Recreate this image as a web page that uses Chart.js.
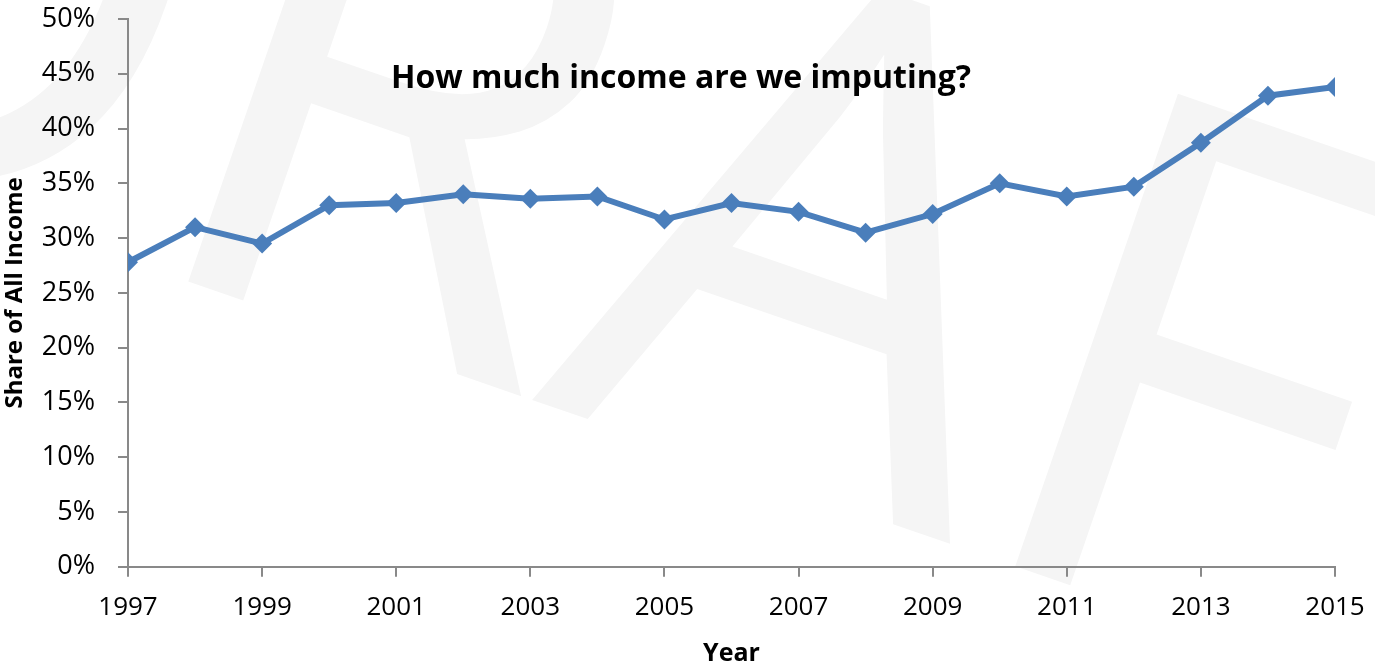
<!DOCTYPE html>
<html>
<head>
<meta charset="utf-8">
<script src="https://cdn.jsdelivr.net/npm/chart.js@4/dist/chart.umd.min.js"></script>
<style>
  html, body { margin: 0; padding: 0; background: #fff; }
  #wrap { width: 1375px; height: 669px; position: relative; }
</style>
</head>
<body>
<div id="wrap"><canvas id="chart"></canvas></div>
<script>
var years = [1997, 1998, 1999, 2000, 2001, 2002, 2003, 2004, 2005, 2006,
             2007, 2008, 2009, 2010, 2011, 2012, 2013, 2014, 2015];
// share of all income that is imputed, in percent
var imputedShare = [27.8, 31.0, 29.5, 33.0, 33.2, 34.0, 33.6, 33.8, 31.7, 33.2,
                    32.4, 30.5, 32.2, 35.0, 33.8, 34.7, 38.7, 43.0, 43.8];
var yTicks = [0, 5, 10, 15, 20, 25, 30, 35, 40, 45, 50];

var titleText = 'How much income are we imputing?';
var stampText = 'DRAFT';

var axisGrey = '#898989';
var lineBlue = '#4a7ebb';
var fontFamily = '"Open Sans", "Noto Sans", sans-serif';

var points = years.map(function (y, i) {
    return { x: y, y: imputedShare[i] };
});

// big pale "DRAFT" stamp behind everything, plus the title inside the plot
var decorations = {
    id: 'decorations',
    beforeDraw: function (chart) {
        var ctx = chart.ctx;
        ctx.save();
        ctx.fillStyle = '#f5f5f5';
        ctx.font = '700px ' + fontFamily;
        ctx.textAlign = 'center';
        ctx.textBaseline = 'middle';
        ctx.translate(715, 252);
        ctx.rotate(19 * Math.PI / 180);
        ctx.fillText(stampText, 0, 0);
        ctx.restore();
    },
    afterDraw: function (chart) {
        var ctx = chart.ctx;
        ctx.save();
        ctx.fillStyle = '#000';
        ctx.font = 'bold 32px ' + fontFamily;
        ctx.textAlign = 'center';
        ctx.textBaseline = 'middle';
        ctx.fillText(titleText, 681, 79);
        ctx.restore();
    }
};

var config = {
    type: 'line',
    data: {
        datasets: [{
            data: points,
            borderColor: lineBlue,
            backgroundColor: lineBlue,
            borderWidth: 6,
            pointStyle: 'rectRot',
            pointRadius: 10,
            pointBorderWidth: 0,
            tension: 0
        }]
    },
    options: {
        responsive: true,
        maintainAspectRatio: false,
        animation: false,
        layout: {
            padding: { top: 0, right: 40, left: 0, bottom: 0 }
        },
        plugins: {
            legend: { display: false },
            tooltip: { enabled: false }
        },
        scales: {
            x: {
                type: 'linear',
                min: years[0],
                max: years[years.length - 1],
                afterFit: function (axis) {
                    // end labels may hang into the page margins
                    axis.paddingLeft = 0;
                    axis.paddingRight = 0;
                },
                border: { color: axisGrey, width: 2 },
                grid: {
                    drawOnChartArea: false,
                    drawTicks: true,
                    tickLength: 10,
                    color: axisGrey,
                    lineWidth: 2
                },
                ticks: {
                    stepSize: 2,
                    padding: 15,
                    color: '#000',
                    font: { family: fontFamily, size: 26 },
                    callback: function (v) { return String(v); }
                },
                title: {
                    display: true,
                    text: 'Year',
                    color: '#000',
                    padding: { top: 1, bottom: 0 },
                    font: { family: fontFamily, size: 25, weight: 'bold' }
                }
            },
            y: {
                min: yTicks[0],
                max: yTicks[yTicks.length - 1],
                afterBuildTicks: function (axis) {
                    axis.ticks = yTicks.map(function (v) { return { value: v }; });
                },
                afterFit: function (axis) {
                    axis.width = 128;
                    axis.paddingTop = 19;
                    axis.paddingBottom = 0;
                },
                border: { color: axisGrey, width: 2 },
                grid: {
                    drawOnChartArea: false,
                    drawTicks: true,
                    tickLength: 10,
                    color: axisGrey,
                    lineWidth: 2
                },
                ticks: {
                    padding: 23,
                    color: '#000',
                    font: { family: fontFamily, size: 27 },
                    callback: function (v) { return v + '%'; }
                },
                title: {
                    display: true,
                    text: 'Share of All Income',
                    color: '#000',
                    padding: { top: 1, bottom: 0 },
                    font: { family: fontFamily, size: 24, weight: 'bold' }
                }
            }
        }
    },
    plugins: [decorations]
};

window.onload = function () {
    var ctx = document.getElementById('chart').getContext('2d');
    window.shareChart = new Chart(ctx, config);
};
</script>
</body>
</html>
